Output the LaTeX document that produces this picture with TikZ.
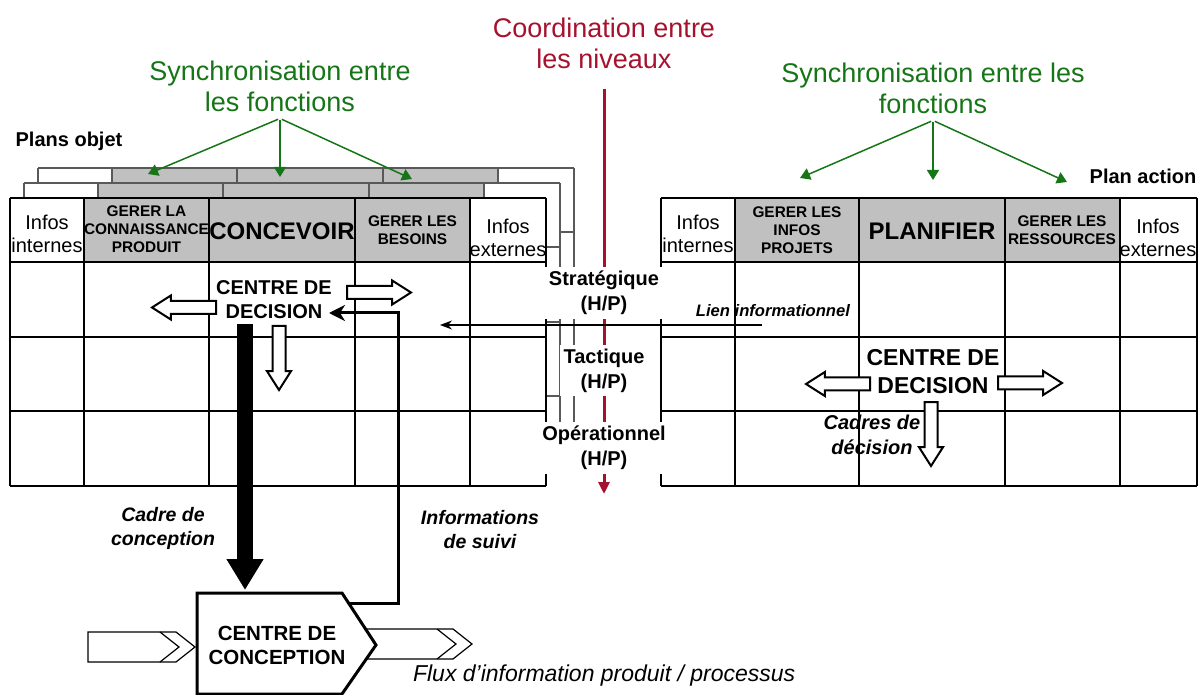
\documentclass[tikz,border=0pt]{standalone}
\usepackage{fontspec}
\setmainfont{Liberation Sans}
\usepackage{xcolor}
\definecolor{Forest}{HTML}{167516}
\definecolor{Burgundy}{HTML}{A6112E}
\definecolor{Silver}{HTML}{C0C0C0}
\colorlet{cGreen}{Forest}
\colorlet{cRed}{Burgundy}
\colorlet{cGrey}{Silver}
\usepackage{tikz}
\usetikzlibrary{arrows.meta, shapes.arrows, positioning}
\tikzset{
	node distance = 1.5em,
	line width = .75pt,
	tablefront/.style={line width=.75pt},
	tableback/.style={line width=.6pt, draw=black!65},
	sync/.style={text=cGreen, align=center, font=\fontsize{13.5}{15.5}\selectfont},
	levels/.style={text=cRed, align=center, font=\fontsize{13.5}{15.5}\selectfont},
	syncedge/.style={-{Triangle[length=5pt, width=6pt]}, draw=cGreen, line width=.75pt},
	levelsedge/.style={-{Triangle[length=6pt, width=5.5pt]}, draw=cRed, line width=1.5pt},
	plan/.style={font=\bfseries\fontsize{10}{12}\selectfont},
	infos/.style={align=center, inner sep=0pt, font=\fontsize{10}{11.5}\selectfont},
	header/.style={align=center, inner sep=0pt, font=\bfseries\fontsize{7.7}{9}\selectfont},
	function/.style={inner sep=0pt, font=\bfseries\fontsize{12}{14}\selectfont},
	levelbox/.style={align=center, fill=white, inner sep=2pt, font=\bfseries\fontsize{10}{12.5}\selectfont},
	decision/.style={align=center, inner sep=0pt, font=\bfseries\fontsize{10}{12}\selectfont},
	decisionbig/.style={align=center, inner sep=0pt, font=\bfseries\fontsize{11.5}{14}\selectfont},
	remark/.style={align=center, font=\bfseries\itshape\fontsize{9.75}{12}\selectfont},
	hollow/.style={
		single arrow,
		draw,
		fill=white,
		line width=1pt,
		minimum height=32pt,
		inner sep=2.75pt,
		single arrow head extend=2.75pt,
		single arrow tip angle=65,
		anchor=tail
	},
	cadreedge/.style={-{Triangle[width=17.5pt, length=15.5pt]}, line width=8.3pt},
	suiviedge/.style={-{Stealth[length=8pt, width=8pt, inset=2.5pt]}, line width=1.5pt},
	lienedge/.style={-{Stealth[length=6pt, width=4.5pt]}, line width=.6pt},
	flux/.style={line width=.6pt, fill=white},
	conceptionbox/.style={line width=1.5pt, fill=white, line join=miter}
}

\begin{document}
\begin{tikzpicture}[x=.5pt, y=-.5pt]
\useasboundingbox (0,0) rectangle (1200,695);

% ---
% plans objet: stacked layers
% ---
\foreach \dx/\dy in {28/-30, 14/-15}{
	\begin{scope}[shift={(\dx,\dy)}]
		\fill[white] (10,198) rectangle (546,486);
		\fill[cGrey] (84,198) rectangle (470,262);
		\foreach \x in {10,84,209,355,470,546} \draw[tableback] (\x,198) -- (\x,486);
		\foreach \y in {198,262,337,411,486} \draw[tableback] (10,\y) -- (546,\y);
	\end{scope}
}
\fill[white] (10,198) rectangle (546,486);
\fill[cGrey] (84,198) rectangle (470,262);
\foreach \x in {10,84,209,355,470,546} \draw[tablefront] (\x,198) -- (\x,486);
\foreach \y in {198,262,337,411,486} \draw[tablefront] (10,\y) -- (546,\y);

\node[plan] (plansObjet) at (69,141) {Plans objet};
\node[infos] (infosIntL) at (47,234) {Infos\\internes};
\node[header] (gererConnaissance) at (146.5,229) {GERER LA\\CONNAISSANCE\\PRODUIT};
\node[function] (concevoir) at (282,231) {CONCEVOIR};
\node[header] (gererBesoins) at (412.5,230) {GERER LES\\BESOINS};
\node[infos] (infosExtL) at (508,238) {Infos\\externes};

% ---
% plan action
% ---
\fill[cGrey] (735,198) rectangle (1120,262);
\foreach \x in {661,735,859,1005,1120,1197} \draw[tablefront] (\x,198) -- (\x,486);
\foreach \y in {198,262,337,411,486} \draw[tablefront] (661,\y) -- (1197,\y);

\node[plan] (planAction) at (1143,176) {Plan action};
\node[infos] (infosIntR) at (698,234) {Infos\\internes};
\node[header] (gererInfos) at (797,230) {GERER LES\\INFOS\\PROJETS};
\node[function] (planifier) at (932,231) {PLANIFIER};
\node[header] (gererRessources) at (1062,230) {GERER LES\\RESSOURCES};
\node[infos] (infosExtR) at (1158,238) {Infos\\externes};

% ---
% synchronisation / coordination
% ---
\node[sync] (syncL) at (280,86) {Synchronisation entre\\les fonctions};
\node[sync] (syncR) at (933,88) {Synchronisation entre les\\fonctions};
\node[levels] (coordination) at (604,43) {Coordination entre\\les niveaux};

\coordinate (syncL-1) at (148,174);
\coordinate (syncL-2) at (280,177);
\coordinate (syncL-3) at (412,179);
\coordinate (syncR-1) at (800,178);
\coordinate (syncR-2) at (933,180);
\coordinate (syncR-3) at (1067,182);
\foreach \i in {1,2,3} {
	\draw[syncedge, shorten <=1pt] (syncL.south) to (syncL-\i);
	\draw[syncedge, shorten <=1pt] (syncR.south) to (syncR-\i);
}

\coordinate (levelsEnd) at (604,494);
\draw[levelsedge, shorten <=7pt] (coordination.south) to (levelsEnd);

\node[levelbox] (strategique) at (604,293) {Stratégique\\(H/P)};
\node[levelbox, below=12.5pt of strategique] (tactique) {Tactique\\(H/P)};
\node[levelbox, below=12.5pt of tactique] (operationnel) {Opérationnel\\(H/P)};

% lien informationnel
\node[remark, font=\bfseries\itshape\fontsize{8.3}{10}\selectfont, anchor=east] (lienText) at (857,311) {Lien informationnel};
\coordinate (lienStart) at (762,325);
\coordinate (lienEnd) at (440,325);
\draw[lienedge] (lienStart) to (lienEnd);

% ---
% centres de decision
% ---
\node[decision] (decisionL) at (274,300) {CENTRE DE\\DECISION};
\node[hollow, rotate=180] (decisionL-west) at (217,307.5) {};
\node[hollow] (decisionL-east) at (346,292.5) {};
\node[hollow, rotate=-90] (decisionL-south) at (279,325) {};

\node[decisionbig] (decisionR) at (933,372) {CENTRE DE\\DECISION};
\node[hollow, rotate=180] (decisionR-west) at (871,384) {};
\node[hollow] (decisionR-east) at (997,383) {};
\node[hollow, rotate=-90] (decisionR-south) at (931,401) {};
\node[remark, font=\bfseries\itshape\fontsize{10}{12.5}\selectfont] (cadresDecision) at (872,435) {Cadres de\\décision};

% ---
% centre de conception
% ---
\draw[flux] (88,632) -- (176,632) -- (195,647) -- (176,662) -- (88,662) -- cycle;
\draw[flux] (160,632) -- (179,647) -- (160,662);
\draw[flux] (350,629) -- (453,629) -- (472,644) -- (453,659) -- (350,659) -- cycle;
\draw[flux] (437,629) -- (456,644) -- (437,659);

\draw[conceptionbox] (197,593) -- (342,593) -- (376,645) -- (342,694) -- (197,694) -- cycle;
\node[decision, font=\bfseries\fontsize{10.25}{12}\selectfont] (conception) at (277,645) {CENTRE DE\\CONCEPTION};

\coordinate (cadreTop) at (245,324);
\coordinate (cadreEnd) at (245,590);
\draw[cadreedge] (cadreTop) to (cadreEnd);

\coordinate (suiviStart) at (348,603);
\coordinate (suiviCorner) at (398,313);
\coordinate (suiviEnd) at (329,313);
\draw[suiviedge] (suiviStart) -| (suiviCorner) -- (suiviEnd);

\node[remark] (cadreConception) at (163,528) {Cadre de\\conception};
\node[remark] (infosSuivi) at (480,530) {Informations\\de suivi};
\node[anchor=west, font=\itshape\fontsize{11.5}{14}\selectfont] (fluxText) at (406,676) {Flux d’information produit / processus};
\end{tikzpicture}
\end{document}
